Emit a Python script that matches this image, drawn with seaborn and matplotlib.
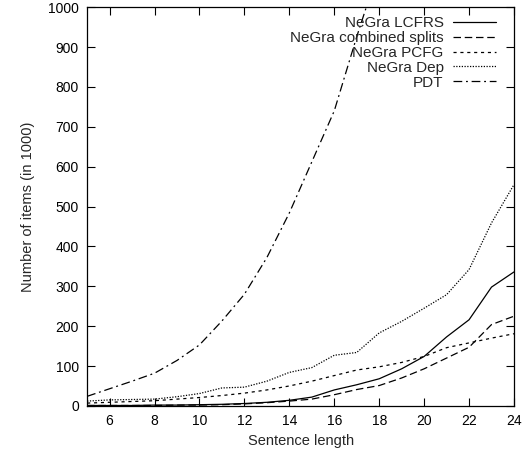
import pandas as pd
import matplotlib.pyplot as plt
import seaborn as sns

lengths = list(range(5, 25))
lcfrs = [1, 1, 1, 2, 2, 3, 4, 6, 9, 14, 22, 40, 53, 68, 93, 124, 173, 216, 298, 336]
combined = [1, 1, 1, 1, 2, 2, 3, 5, 8, 12, 17, 28, 41, 51, 70, 93, 120, 147, 204, 225]
pcfg = [7, 9, 11, 13, 17, 21, 26, 32, 40, 50, 62, 76, 90, 98, 109, 124, 146, 158, 170, 181]
dep = [12, 15, 16, 17, 23, 31, 45, 47, 62, 84, 96, 127, 134, 183, 212, 245, 279, 342, 459, 555]
pdt_lengths = list(range(5, 19))
pdt = [24, 43, 62, 82, 114, 153, 213, 280, 372, 484, 612, 740, 926, 1100]

sns.set_style("ticks")
plt.rcParams["font.family"] = ["Liberation Sans", "DejaVu Sans"]
plt.rcParams["font.size"] = 10.5

fig = plt.figure(figsize=(5.25, 4.53), dpi=100)
ax = fig.add_axes([0.166, 0.104, 0.813, 0.88])

series = [
    ("NeGra LCFRS", lengths, lcfrs, "-"),
    ("NeGra combined splits", lengths, combined, (0, (6, 3))),
    ("NeGra PCFG", lengths, pcfg, (0, (2.5, 3))),
    ("NeGra Dep", lengths, dep, (0, (1, 1.2))),
    ("PDT", pdt_lengths, pdt, (0, (7, 3, 1.5, 3))),
]

for name, xs, ys, ls in series:
    df = pd.DataFrame({"len": xs, "items": ys})
    sns.lineplot(data=df, x="len", y="items", ax=ax, color="black",
                 linestyle=ls, linewidth=0.9, label=name)

ax.set_xlim(5, 24)
ax.set_ylim(0, 1000)
ax.set_xticks(range(6, 25, 2))
ax.set_yticks(range(0, 1001, 100))
ax.tick_params(direction="in", length=6, width=0.8, top=True, right=True,
               labelsize=10, pad=6, colors="black")
for sp in ax.spines.values():
    sp.set_linewidth(0.9)
    sp.set_color("black")

ax.set_xlabel("Sentence length", fontsize=10.5, labelpad=4)
ax.set_ylabel("Number of items (in 1000)", fontsize=10.5, labelpad=9)

ax.legend(loc="upper right", bbox_to_anchor=(0.975, 0.996), frameon=False,
          markerfirst=False, handlelength=2.8, handletextpad=0.6,
          labelspacing=0.05, fontsize=11, borderaxespad=0.1)

fig.savefig("out.png", dpi=100)
